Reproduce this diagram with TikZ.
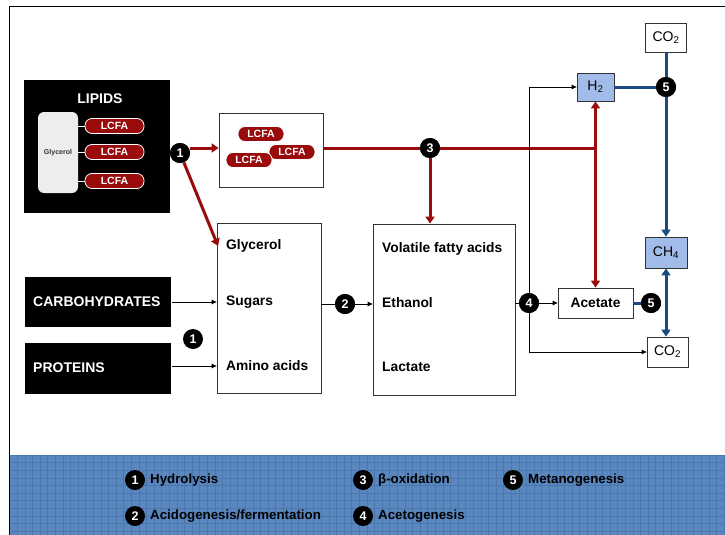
\documentclass[tikz,border=0pt]{standalone}
\usepackage{fontspec}
\setmainfont{Liberation Sans}
\usetikzlibrary{arrows.meta,calc}
\definecolor{dred}{HTML}{9A0B0B}
\definecolor{dblue}{HTML}{1B4A7E}
\definecolor{lblue}{HTML}{A2BCEA}
\definecolor{band}{HTML}{5A87BE}
\definecolor{gridc}{HTML}{3F6DA5}
\tikzset{
  num/.style={circle,fill=black,text=white,inner sep=0pt,minimum size=20pt,font=\fontsize{12.5}{12}\selectfont\bfseries},
  blackbox/.style={fill=black,draw=black,text=white,anchor=north west,inner sep=0pt},
  bigtext/.style={text=white,font=\fontsize{14}{14}\selectfont\bfseries,inner sep=0pt},
  pill/.style={rounded corners=7pt,fill=dred,draw=white,line width=0.8pt,text=white,minimum width=59pt,minimum height=15pt,inner sep=0pt,font=\fontsize{10.5}{10}\selectfont\bfseries},
  plainbox/.style={draw=black!80,line width=0.8pt,fill=white,inner sep=0pt},
  gasbox/.style={draw=black!80,line width=0.8pt,inner sep=0pt,font=\fontsize{14}{14}\selectfont},
  lbl/.style={font=\fontsize{13.8}{14}\selectfont\bfseries,anchor=west,inner sep=0pt},
  redarr/.style={draw=dred,line width=3pt,-{Triangle[length=7pt,width=9pt]}},
  redline/.style={draw=dred,line width=3pt},
  bluearr/.style={draw=dblue,line width=3pt,-{Triangle[length=7pt,width=9pt]}},
  blueline/.style={draw=dblue,line width=3pt},
  thinarr/.style={draw=black,line width=0.8pt,-{Triangle[length=5pt,width=4.5pt]}},
  thinline/.style={draw=black,line width=0.8pt},
  legtext/.style={font=\fontsize{13.3}{13}\selectfont\bfseries,anchor=west,inner sep=0pt},
}
\begin{document}
\begin{tikzpicture}[x=1pt,y=-1pt]
\useasboundingbox (0,0) rectangle (725,535);
\fill[white] (0,0) rectangle (725,535);
% frame
\draw[black,line width=1pt] (9,535) -- (9,7) -- (725,7);
% legend band
\fill[band] (9.5,455) rectangle (725,535);
\begin{scope}
\clip (9.5,455) rectangle (725,535);
\draw[gridc,line width=0.4pt,opacity=0.6,shift={(9.5,455)}] (0,0) grid[step=7.6pt] (720,80);
\end{scope}
\draw[black,line width=1pt] (9,455) -- (9,535);

% LIPIDS
\node[blackbox,minimum width=145pt,minimum height=132pt] (lipids) at (24,80) {};
\node[bigtext] (liptxt) at (100,99) {LIPIDS};
\node[rounded corners=6pt,fill=black!7,minimum width=40pt,minimum height=81pt,inner sep=0pt,font=\fontsize{7}{7}\selectfont\bfseries,text=black!80] (gly) at (58,152.5) {Glycerol};
\node[pill] (p1) at (114.5,126) {LCFA};
\node[pill] (p2) at (114.5,152) {LCFA};
\node[pill] (p3) at (114.5,181) {LCFA};
\draw[white,line width=1pt] (gly.east |- p1) -- (p1.west);
\draw[white,line width=1pt] (gly.east |- p2) -- (p2.west);
\draw[white,line width=1pt] (gly.east |- p3) -- (p3.west);

% CARBOHYDRATES / PROTEINS
\node[blackbox,minimum width=145pt,minimum height=49pt] (carb) at (25,277) {};
\node[bigtext,anchor=west] (carbtxt) at (33,302) {CARBOHYDRATES};
\node[blackbox,minimum width=145pt,minimum height=50pt] (prot) at (25,343) {};
\node[bigtext,anchor=west] (prottxt) at (33,368) {PROTEINS};

% LCFA box
\node[plainbox,minimum width=104pt,minimum height=74pt] (lcfabox) at (271,150) {};
\node[pill,minimum width=46pt] (q1) at (261,134) {LCFA};
\node[pill,minimum width=46pt] (q2) at (292,152) {LCFA};
\node[pill,minimum width=46pt] (q3) at (249,160) {LCFA};

% monomer box
\node[plainbox,minimum width=104pt,minimum height=170pt] (mono) at (269,308) {};
\node[lbl] (tgly) at (226,246) {Glycerol};
\node[lbl] (tsug) at (226,302) {Sugars};
\node[lbl] (tamino) at (226,366) {Amino acids};

% VFA box
\node[plainbox,minimum width=142pt,minimum height=171pt] (vfa) at (444,309.5) {};
\node[lbl] (tvfa) at (382,249) {Volatile fatty acids};
\node[lbl] (teth) at (382,303) {Ethanol};
\node[lbl] (tlac) at (382,367) {Lactate};

% gas boxes
\node[gasbox,fill=lblue,minimum width=37pt,minimum height=28pt] (h2) at (595.5,87) {H\textsubscript{2}};
\node[gasbox,fill=white,minimum width=41pt,minimum height=29pt] (co2t) at (666,37.5) {CO\textsubscript{2}};
\node[gasbox,fill=lblue,minimum width=42pt,minimum height=31pt] (ch4) at (666,252.5) {CH\textsubscript{4}};
\node[gasbox,fill=white,minimum width=41pt,minimum height=30pt] (co2b) at (667.5,352) {CO\textsubscript{2}};
\node[gasbox,fill=white,minimum width=75pt,minimum height=30pt,font=\fontsize{13.8}{14}\selectfont\bfseries] (acet) at (595.5,303) {Acetate};

% number circles
\node[num] (c1) at (180,153) {1};
\node[num] (c1b) at (193,339) {1};
\node[num] (c2) at (345,304) {2};
\node[num] (c3) at (430,148) {3};
\node[num] (c4) at (529,303) {4};
\node[num] (c5a) at (666,87) {5};
\node[num] (c5b) at (651,303) {5};

% red connectors
\coordinate (redjoin) at (595.5,148);
\coordinate (glyin) at (218,246);
\draw[redarr] (c1.east |- 0,148) -- (lcfabox.west |- 0,148);
\draw[redarr] (c1) -- (glyin);
\draw[redline] (lcfabox.east |- redjoin) -- (c3);
\draw[redline] (c3) -- ([xshift=1.5pt]redjoin);
\draw[redarr] (c3) -- (c3 |- vfa.north);
\draw[redarr] (redjoin) -- (h2.south);
\draw[redarr] (redjoin) -- (acet.north);
\node[num] at (c3) {3};
\node[num] at (c1) {1};

% thin black connectors
\draw[thinarr] (carb.east |- tsug) ++(2,0) -- (mono.west |- tsug);
\draw[thinarr] (prot.east |- tamino) ++(2,0) -- (mono.west |- tamino);
\draw[thinline] (mono.east |- c2) -- (c2);
\draw[thinarr] (c2) -- (vfa.west |- c2);
\draw[thinline] (vfa.east |- c4) -- (c4);
\draw[thinarr] (c4) -- (acet.west);
\coordinate (up4) at (529,87);
\coordinate (dn4) at (529,352);
\draw[thinarr] (c4) -- (up4) -- (h2.west);
\draw[thinarr] (c4) -- (dn4) -- (co2b.west);
\node[num] at (c2) {2};
\node[num] at (c4) {4};

% blue connectors
\coordinate (vj) at (666,303);
\draw[blueline] (h2.east) -- (c5a);
\draw[bluearr] (co2t.south) -- (ch4.north);
\draw[blueline] (acet.east) -- (c5b);
\draw[bluearr] (vj) -- (ch4.south);
\draw[bluearr] (vj) -- (vj |- co2b.north);
\node[num] at (c5a) {5};
\node[num] at (c5b) {5};

% legend
\node[num] (l1) at (135,480) {1};
\node[legtext] (l1t) at (150,480) {Hydrolysis};
\node[num] (l2) at (135,516) {2};
\node[legtext] (l2t) at (150,516) {Acidogenesis/fermentation};
\node[num] (l3) at (363,480) {3};
\node[legtext] (l3t) at (378,480) {β-oxidation};
\node[num] (l4) at (363,516) {4};
\node[legtext] (l4t) at (378,516) {Acetogenesis};
\node[num] (l5) at (513,480) {5};
\node[legtext] (l5t) at (528,480) {Metanogenesis};
\end{tikzpicture}
\end{document}
